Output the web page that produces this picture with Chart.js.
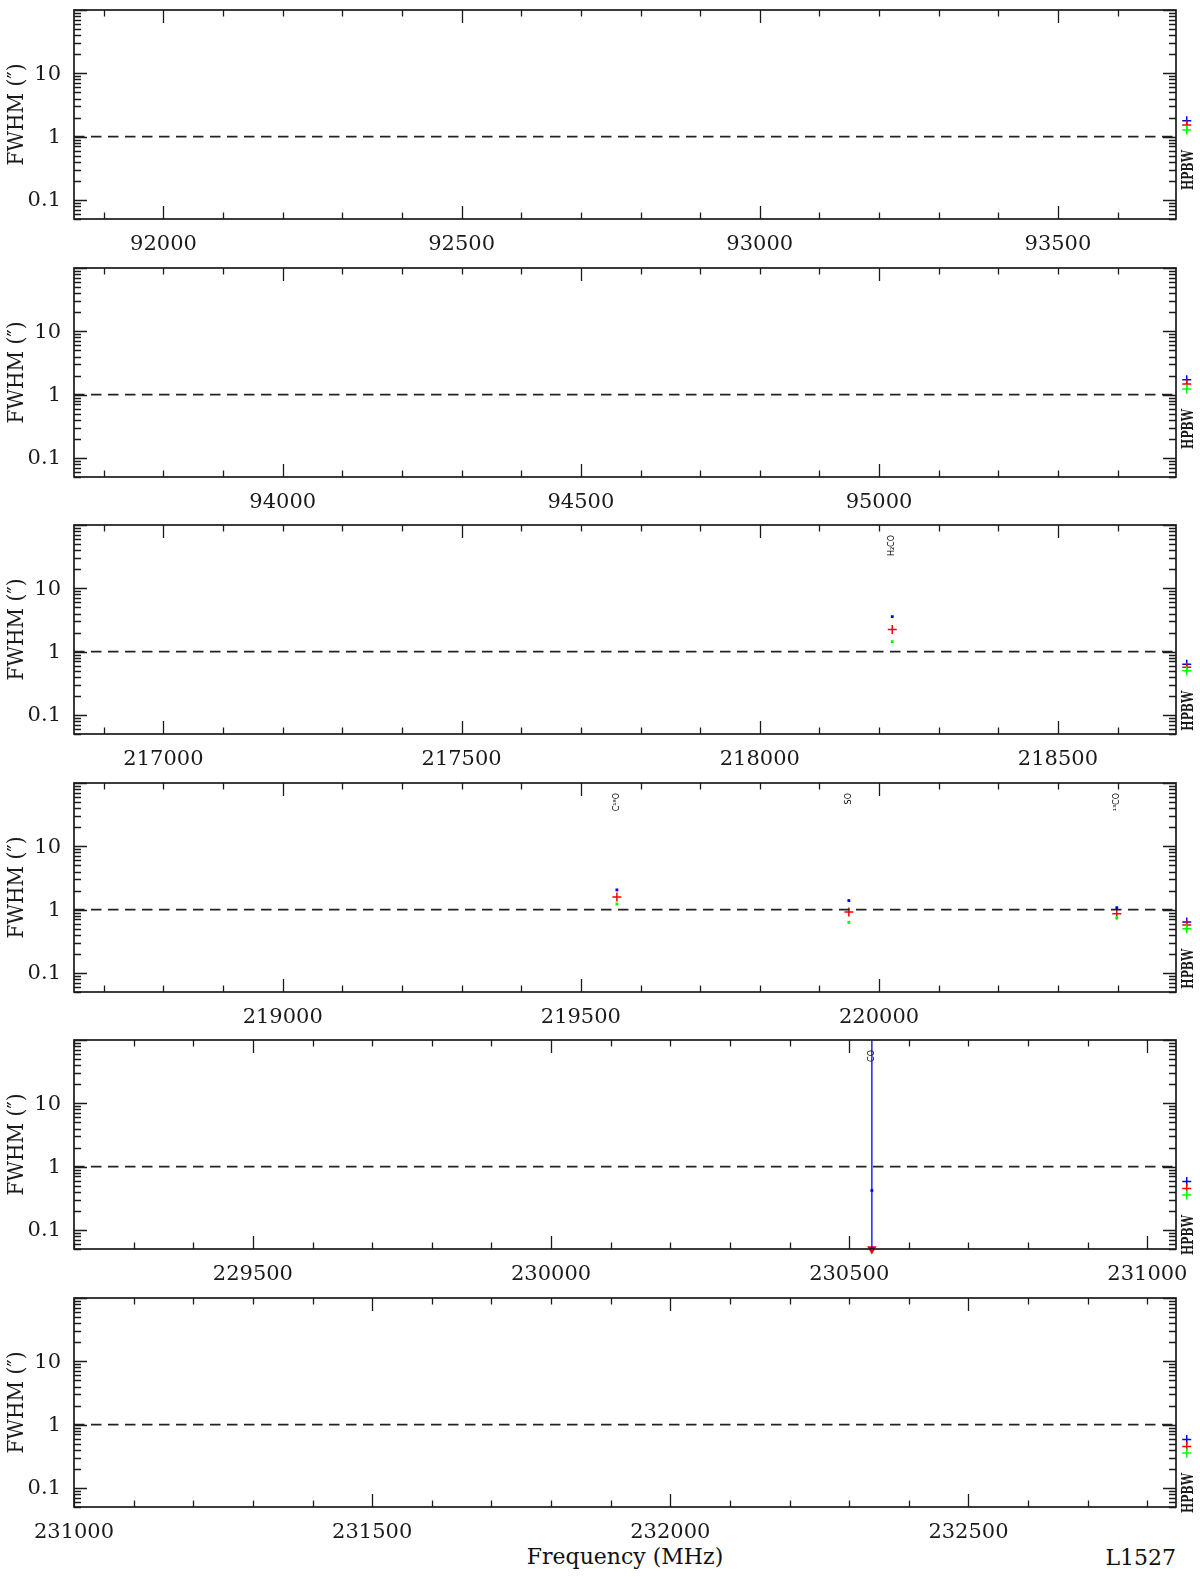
<!DOCTYPE html>
<html>
<head>
<meta charset="utf-8">
<script src="https://cdn.jsdelivr.net/npm/chart.js@4.4.1/dist/chart.umd.min.js"></script>
<style>
  html, body { margin: 0; padding: 0; background: #fff; }
  #page { position: relative; width: 1200px; height: 1577px; overflow: hidden; background: #fff; }
  .panel { position: absolute; left: 0; }
  .caption { position: absolute; font-family: "DejaVu Serif", serif; font-size: 22px; line-height: 20px; color: #111; white-space: nowrap; }
</style>
</head>
<body>
<div id="page">
  <div class="caption" style="left:74px; width:1102px; text-align:center; top:1547px;">Frequency (MHz)</div>
  <div class="caption" style="right:24px; top:1548px;">L1527</div>
</div>
<script>
/* ================= DATA ================= */
// left edge of each panel (MHz), every panel spans the same width
const xStarts = [91850, 93650, 216850, 218650, 229200, 231000];
const xSpan = 1848;

// lines identified in each panel
const lineNames = [[], [], ["H\u2082CO"], ["C\u00b9\u2078O", "SO", "\u00b9\u00b3CO"], ["CO"], []];
const lineFreqs = [[], [], [218222.2], [219560.4, 219949.4, 220398.7], [230538.0], []];

// fitted FWHM (arcsec): major axis (blue), geometric mean (red), minor axis (green)
const fwhmMajor = [[], [], [3.57], [2.05, 1.39, 1.07], [0.42], []];
const fwhmMean  = [[], [], [2.23], [1.59, 0.92, 0.86], [0.05], []];
const fwhmMinor = [[], [], [1.44], [1.23, 0.63, 0.74], [null], []];
const meanIsLimit = [[], [], [false], [false, false, false], [true], []];

// error bars [low, high]
const majorBars = [[], [], [null], [null, null, [1.01, 1.12]], [[0.001, 1000]], []];
const minorBars = [[], [], [null], [null, [0.60, 0.66], [0.69, 0.79]], [null], []];

// synthesized beam (HPBW) per panel
const hpbwMajor = [1.78, 1.72, 0.63, 0.64, 0.58, 0.58];
const hpbwMean  = [1.52, 1.47, 0.565, 0.57, 0.45, 0.45];
const hpbwMinor = [1.27, 1.23, 0.50, 0.50, 0.355, 0.355];

const yMin = 0.05, yMax = 100;
const yLabels = [0.1, 1, 10];

/* ================= STYLE ================= */
const ink = "#1a1a1a";
const BLUE = "#0000ff", RED = "#ff0000", GREEN = "#00ff00";
const serif = '"DejaVu Serif", serif';
const hpbwOffset = 18;   // MHz beyond right edge

function fitText(ctx, text, len) {
    const w = ctx.measureText(text).width;
    ctx.scale(len / w, 1);
    ctx.fillText(text, 0, 0);
}

/* ================= AXES PLUGIN ================= */
const pgAxes = {
    id: "pgAxes",
    afterDraw(chart) {
        const ctx = chart.ctx, a = chart.chartArea;
        const xs = chart.scales.x, ys = chart.scales.y;
        const i = chart.options.plugins.pgAxes.panel;

        ctx.save();
        ctx.strokeStyle = ink;
        ctx.lineWidth = 1.7;
        ctx.strokeRect(a.left, a.top, a.right - a.left, a.bottom - a.top);

        ctx.lineWidth = 1.3;
        ctx.beginPath();
        // x ticks, minor every 100, major every 500
        for (let v = Math.ceil(xs.min / 100) * 100; v <= xs.max; v += 100) {
            const px = Math.round(xs.getPixelForValue(v)) + 0.5;
            const len = v % 500 === 0 ? 13 : 6.5;
            ctx.moveTo(px, a.bottom); ctx.lineTo(px, a.bottom - len);
            ctx.moveTo(px, a.top); ctx.lineTo(px, a.top + len);
        }
        // log y ticks
        for (const d of [0.01, 0.1, 1, 10, 100]) {
            for (let k = 1; k <= 9; k++) {
                const v = k * d;
                if (v < yMin * 0.999 || v > yMax * 1.001) continue;
                const py = Math.round(ys.getPixelForValue(v)) + 0.5;
                const len = k === 1 ? 13 : 7;
                ctx.moveTo(a.left, py); ctx.lineTo(a.left + len, py);
                ctx.moveTo(a.right, py); ctx.lineTo(a.right - len, py);
            }
        }
        ctx.stroke();

        // tick labels
        ctx.fillStyle = ink;
        ctx.font = "21px " + serif;
        ctx.textAlign = "center";
        ctx.textBaseline = "alphabetic";
        for (let v = Math.ceil(xs.min / 500) * 500; v <= xs.max; v += 500) {
            ctx.fillText(String(v), xs.getPixelForValue(v), a.bottom + 31);
        }
        ctx.textAlign = "right";
        ctx.textBaseline = "middle";
        yLabels.forEach(v => ctx.fillText(String(v), a.left - 13, ys.getPixelForValue(v) + 1));

        // y title
        ctx.save();
        ctx.translate(17, (a.top + a.bottom) / 2);
        ctx.rotate(-Math.PI / 2);
        ctx.textAlign = "center";
        ctx.font = "22px " + serif;
        fitText(ctx, "FWHM (\u2033)", 102);
        ctx.restore();

        // line names
        ctx.font = "8px \"DejaVu Sans\", sans-serif";
        ctx.fillStyle = "#000";
        lineNames[i].forEach((name, j) => {
            ctx.save();
            ctx.translate(xs.getPixelForValue(lineFreqs[i][j]), a.top + 10);
            ctx.rotate(-Math.PI / 2);
            ctx.textAlign = "right";
            ctx.fillText(name, 0, 0);
            ctx.restore();
        });

        // beam markers just past the right edge
        const bx = xs.getPixelForValue(xs.max + hpbwOffset);
        [[hpbwMajor, BLUE], [hpbwMean, RED], [hpbwMinor, GREEN]].forEach(([vals, color]) => {
            ctx.strokeStyle = color;
            ctx.fillStyle = color;
            ctx.lineWidth = 1.5;
            Chart.helpers.drawPoint(ctx, { pointStyle: "cross", radius: 4.5, borderWidth: 1.5, rotation: 0 },
                bx, ys.getPixelForValue(vals[i]));
        });

        // HPBW label
        ctx.save();
        ctx.fillStyle = ink;
        ctx.translate(a.right + 13, ys.getPixelForValue(hpbwMinor[i]) + 20);
        ctx.rotate(-Math.PI / 2);
        ctx.textAlign = "right";
        ctx.font = "bold 16px " + serif;
        fitText(ctx, "HPBW", 40);
        ctx.restore();

        ctx.restore();
    }
};

/* ================= PANELS ================= */
const page = document.getElementById("page");

function pts(vals, i) {
    return lineFreqs[i].map((f, j) => ({ x: f, y: vals[i][j] })).filter(p => p.y !== null);
}

function bars(list, i, color) {
    const out = [];
    lineFreqs[i].forEach((f, j) => {
        const b = list[i][j];
        if (!b) return;
        out.push({
            data: [{ x: f, y: b[0] }, { x: f, y: b[1] }],
            showLine: true, borderColor: color, borderWidth: 1.3, pointRadius: 0
        });
    });
    return out;
}

function makePanel(i) {
    const xmin = xStarts[i], xmax = xStarts[i] + xSpan;

    const cv = document.createElement("canvas");
    cv.className = "panel";
    cv.width = 1200;
    cv.height = 258;
    cv.style.top = Math.round(i * 257.5) + "px";
    page.appendChild(cv);

    const datasets = [
        {
            data: [{ x: xmin, y: 1 }, { x: xmax, y: 1 }],
            showLine: true, borderColor: "#222", borderWidth: 1.6,
            borderDash: [10.5, 6.5], pointRadius: 0
        },
        ...bars(majorBars, i, BLUE),
        ...bars(minorBars, i, GREEN),
        {
            data: pts(fwhmMajor, i),
            pointStyle: "rect", pointRadius: 2, backgroundColor: BLUE, borderWidth: 0
        },
        {
            data: pts(fwhmMinor, i),
            pointStyle: "rect", pointRadius: 2, backgroundColor: GREEN, borderWidth: 0
        },
        {
            data: pts(fwhmMean, i),
            clip: false,
            pointStyle: c => meanIsLimit[i][c.dataIndex] ? "triangle" : "cross",
            rotation: c => meanIsLimit[i][c.dataIndex] ? 180 : 0,
            pointRadius: c => meanIsLimit[i][c.dataIndex] ? 4 : 4.5,
            backgroundColor: RED, borderColor: RED, borderWidth: 1.5
        }
    ];

    new Chart(cv.getContext("2d"), {
        type: "scatter",
        data: { datasets },
        options: {
            responsive: false,
            animation: false,
            events: [],
            layout: { padding: { left: 74, right: 24, top: 10, bottom: 39 } },
            scales: {
                x: { type: "linear", min: xmin, max: xmax, display: false },
                y: { type: "logarithmic", min: yMin, max: yMax, display: false }
            },
            plugins: {
                legend: { display: false },
                tooltip: { enabled: false },
                pgAxes: { panel: i }
            }
        },
        plugins: [pgAxes]
    });
}

for (let i = 0; i < 6; i++) makePanel(i);
</script>
</body>
</html>
